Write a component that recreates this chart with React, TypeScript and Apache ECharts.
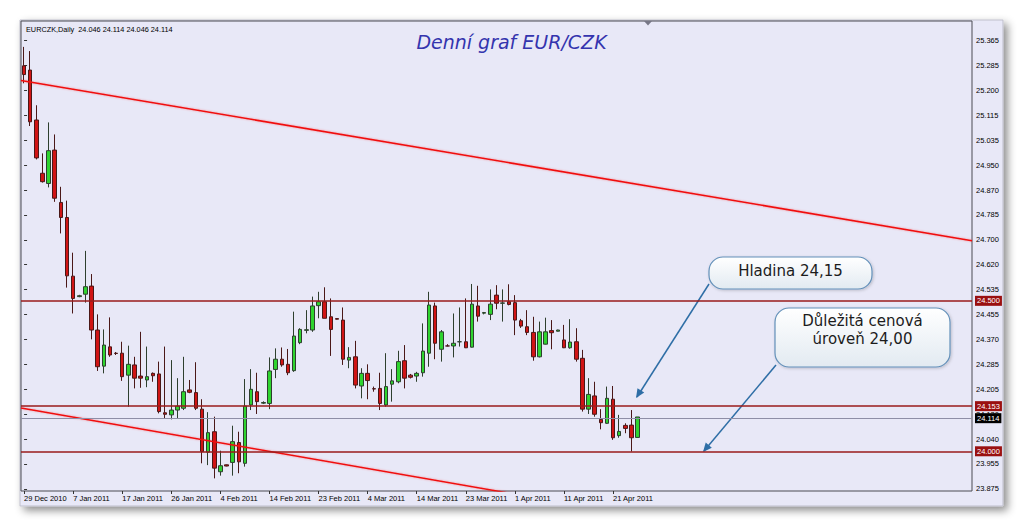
import React, { useEffect, useRef } from "react";
import * as echarts from "echarts";

// ---------- data ----------
const BAR_COUNT = 101;
const SLOT_COUNT = 155; // visible bar slots (right side left empty like in MT4)
const START = { y: 2010, m: 11, d: 29 };
const MISSING_DAYS = ["2011-04-17"]; // Sunday without a bar

const OPEN = [
  25.281, 25.267, 25.101, 24.924, 24.890, 25.001, 24.827, 24.777, 24.582, 24.514,
  24.522, 24.549, 24.403, 24.283, 24.347, 24.326, 24.326, 24.253, 24.287, 24.250,
  24.237, 24.259, 24.257, 24.128, 24.121, 24.137, 24.143, 24.204, 24.195, 24.140,
  23.997, 24.065, 23.932, 23.955, 23.963, 24.029, 23.960, 24.154, 24.198, 24.160,
  24.159, 24.272, 24.306, 24.289, 24.268, 24.361, 24.402, 24.403, 24.484, 24.497,
  24.447, 24.441, 24.436, 24.303, 24.314, 24.217, 24.259, 24.208, 24.209, 24.154,
  24.223, 24.231, 24.301, 24.253, 24.250, 24.261, 24.326, 24.483, 24.339, 24.350,
  24.350, 24.364, 24.364, 24.346, 24.483, 24.459, 24.455, 24.519, 24.492, 24.497,
  24.494, 24.434, 24.414, 24.395, 24.314, 24.356, 24.401, 24.399, 24.370, 24.344,
  24.364, 24.309, 24.140, 24.184, 24.106, 24.093, 24.173, 24.052, 24.086, 24.087,
  24.046,
];
const HIGH = [
  25.344, 25.330, 25.150, 24.990, 25.093, 25.053, 24.879, 24.833, 24.660, 24.520,
  24.666, 24.589, 24.455, 24.405, 24.445, 24.330, 24.364, 24.351, 24.314, 24.397,
  24.348, 24.262, 24.298, 24.348, 24.303, 24.243, 24.314, 24.237, 24.296, 24.173,
  24.130, 24.115, 24.002, 23.956, 24.085, 24.065, 24.240, 24.273, 24.261, 24.166,
  24.312, 24.342, 24.345, 24.340, 24.464, 24.409, 24.469, 24.514, 24.530, 24.545,
  24.508, 24.442, 24.478, 24.346, 24.367, 24.276, 24.289, 24.215, 24.261, 24.326,
  24.273, 24.334, 24.353, 24.257, 24.264, 24.425, 24.530, 24.494, 24.403, 24.356,
  24.458, 24.478, 24.508, 24.556, 24.550, 24.463, 24.538, 24.552, 24.538, 24.555,
  24.519, 24.440, 24.469, 24.447, 24.431, 24.444, 24.436, 24.404, 24.420, 24.439,
  24.409, 24.337, 24.243, 24.231, 24.140, 24.215, 24.217, 24.121, 24.093, 24.137,
  24.114,
];
const LOW = [
  25.223, 25.081, 24.970, 24.893, 24.877, 24.829, 24.724, 24.544, 24.458, 24.512,
  24.494, 24.372, 24.267, 24.259, 24.314, 24.320, 24.234, 24.148, 24.209, 24.211,
  24.213, 24.231, 24.126, 24.110, 24.106, 24.110, 24.137, 24.193, 24.137, 23.960,
  23.954, 23.910, 23.919, 23.950, 23.919, 23.927, 23.949, 24.137, 24.124, 24.157,
  24.140, 24.243, 24.281, 24.253, 24.264, 24.356, 24.392, 24.397, 24.442, 24.442,
  24.317, 24.438, 24.287, 24.276, 24.209, 24.176, 24.173, 24.198, 24.137, 24.148,
  24.165, 24.226, 24.209, 24.242, 24.231, 24.248, 24.281, 24.306, 24.298, 24.349,
  24.312, 24.348, 24.343, 24.345, 24.431, 24.455, 24.436, 24.472, 24.431, 24.485,
  24.386, 24.410, 24.386, 24.301, 24.312, 24.355, 24.339, 24.398, 24.343, 24.341,
  24.298, 24.132, 24.124, 24.115, 24.073, 24.091, 24.038, 24.045, 24.060, 23.999,
  24.046,
];
const CLOSE = [
  25.252, 25.095, 24.975, 24.896, 24.999, 24.841, 24.777, 24.583, 24.508, 24.517,
  24.547, 24.403, 24.281, 24.353, 24.320, 24.325, 24.248, 24.289, 24.243, 24.243,
  24.248, 24.251, 24.132, 24.123, 24.137, 24.150, 24.198, 24.196, 24.143, 23.999,
  24.062, 23.944, 23.952, 23.951, 24.032, 23.965, 24.150, 24.206, 24.165, 24.162,
  24.267, 24.306, 24.287, 24.261, 24.383, 24.405, 24.404, 24.483, 24.497, 24.442,
  24.405, 24.439, 24.306, 24.312, 24.220, 24.259, 24.235, 24.207, 24.159, 24.215,
  24.234, 24.298, 24.243, 24.246, 24.259, 24.333, 24.486, 24.359, 24.397, 24.350,
  24.359, 24.364, 24.344, 24.489, 24.449, 24.461, 24.489, 24.492, 24.493, 24.488,
  24.436, 24.416, 24.395, 24.314, 24.397, 24.397, 24.394, 24.403, 24.344, 24.363,
  24.306, 24.140, 24.189, 24.123, 24.095, 24.176, 24.045, 24.066, 24.076, 24.045,
  24.114,
];

const Y_TICK_LABELS = [
  "23.875", "23.955", "24.040", "24.120", "24.205", "24.285", "24.370", "24.455",
  "24.535", "24.620", "24.700", "24.785", "24.870", "24.950", "25.035", "25.115",
  "25.200", "25.285", "25.365",
];
const Y_TICK_FIRST = 23.875;
const Y_TICK_LAST = 25.365;
const Y_MIN = 23.868;
const Y_MAX = 25.43;

const LEVELS = [24.5, 24.153, 24.0];
const BID = 24.114;
const UPPER_TREND = [[-0.5, 25.232], [154.5, 24.7]];
const LOWER_TREND = [[-0.5, 24.144], [154.5, 23.592]];

const HEADER = "EURCZK,Daily  24.046 24.114 24.046 24.114";
const TITLE = "Denní graf EUR/CZK";
const NOTE1 = "Hladina 24,15";
const NOTE2 = "Důležitá cenová\núroveň 24,00";

const MONTHS = ["Jan", "Feb", "Mar", "Apr", "May", "Jun", "Jul", "Aug", "Sep", "Oct", "Nov", "Dec"];

function buildCategories(): string[] {
  const out: string[] = [];
  const d = new Date(Date.UTC(START.y, START.m, START.d));
  while (out.length < BAR_COUNT) {
    const iso = d.toISOString().slice(0, 10);
    if (d.getUTCDay() !== 6 && MISSING_DAYS.indexOf(iso) < 0) {
      out.push(`${d.getUTCDate()} ${MONTHS[d.getUTCMonth()]} ${d.getUTCFullYear()}`);
    }
    d.setUTCDate(d.getUTCDate() + 1);
  }
  for (let i = BAR_COUNT; i < SLOT_COUNT; i++) out.push(`slot${i}`);
  return out;
}

const FONT = '"Liberation Sans", Arial, sans-serif';

export default function App() {
  const ref = useRef<HTMLDivElement>(null);

  useEffect(() => {
    if (!ref.current) return;
    const chart = echarts.init(ref.current, undefined, { renderer: "svg" });
    const categories = buildCategories();
    const step = (Y_TICK_LAST - Y_TICK_FIRST) / (Y_TICK_LABELS.length - 1);
    const tickValues = Y_TICK_LABELS.map((_, i) => Y_TICK_FIRST + i * step);
    const labelInterval = (index: number) => index % 8 === 0 && index < BAR_COUNT;
    const candles = OPEN.map((o, i) => [o, CLOSE[i], LOW[i], HIGH[i]]);

    const levelLine = (v: number, line: string, bg: string, w: number) => ({
      yAxis: v,
      lineStyle: { color: line, width: w, type: "solid" },
      label: {
        show: true,
        position: "end",
        distance: 3,
        formatter: () => v.toFixed(3),
        color: "#ffffff",
        backgroundColor: bg,
        fontSize: 7.5,
        fontFamily: FONT,
        padding: [1, 2, 1, 2],
      },
    });

    const arrowHead = (x1: number, y1: number, x2: number, y2: number) => {
      const dx = x2 - x1, dy = y2 - y1;
      const len = Math.hypot(dx, dy);
      const ux = dx / len, uy = dy / len;
      const bx = x2 - ux * 9, by = y2 - uy * 9;
      const px = -uy * 4, py = ux * 4;
      return [[x2, y2], [bx + px, by + py], [bx - px, by - py]];
    };

    const calloutFill = new echarts.graphic.LinearGradient(0, 0, 0, 1, [
      { offset: 0, color: "#FFFFFF" },
      { offset: 1, color: "#E2EAF1" },
    ]);
    const calloutFill2 = new echarts.graphic.LinearGradient(0, 0, 0, 1, [
      { offset: 0, color: "#FFFFFF" },
      { offset: 1, color: "#E2EAF1" },
    ]);

    const option: any = {
      animation: false,
      backgroundColor: "#ffffff",
      grid: {
        left: 21,
        top: 21,
        right: 52,
        bottom: 36,
        show: true,
        borderColor: "#4a4a52",
        borderWidth: 1,
        backgroundColor: "transparent",
      },
      xAxis: [
        {
          type: "category",
          data: categories,
          boundaryGap: true,
          axisLine: { show: false },
          axisTick: {
            show: true,
            interval: labelInterval,
            alignWithLabel: true,
            length: 3,
            lineStyle: { color: "#333" },
          },
          axisLabel: {
            interval: labelInterval,
            align: "left",
            margin: 3,
            fontSize: 7.5,
            fontFamily: FONT,
            color: "#000",
          },
          splitLine: { show: false },
        },
        { type: "value", min: -0.5, max: SLOT_COUNT - 0.5, show: false },
      ],
      yAxis: {
        type: "value",
        position: "right",
        min: Y_MIN,
        max: Y_MAX,
        axisLine: { show: false },
        splitLine: { show: false },
        axisTick: {
          show: true,
          length: 3,
          customValues: tickValues,
          lineStyle: { color: "#333" },
        },
        axisLabel: {
          customValues: tickValues,
          margin: 4,
          fontSize: 7.5,
          fontFamily: FONT,
          color: "#000",
          formatter: (v: number) => {
            const idx = Math.round((v - Y_TICK_FIRST) / step);
            return Y_TICK_LABELS[idx] ?? "";
          },
        },
      },
      series: [
        {
          type: "candlestick",
          data: candles,
          barWidth: 4,
          itemStyle: {
            color: "#2FD42F",
            color0: "#D01414",
            borderColor: "#2E3F2E",
            borderColor0: "#4A1818",
            borderWidth: 1,
          },
          markLine: {
            silent: true,
            symbol: "none",
            animation: false,
            data: [
              levelLine(LEVELS[0], "#9A1B1B", "#9A1010", 1.6),
              levelLine(LEVELS[1], "#9A1B1B", "#9A1010", 1.6),
              levelLine(LEVELS[2], "#9A1B1B", "#9A1010", 1.6),
              levelLine(BID, "#8E8EA6", "#000000", 1),
            ],
          },
        },
        {
          type: "line",
          xAxisIndex: 1,
          data: UPPER_TREND,
          symbol: "none",
          clip: true,
          silent: true,
          lineStyle: { color: "#F01010", width: 1.5, shadowColor: "rgba(255,0,0,0.35)", shadowBlur: 2 },
        },
        {
          type: "line",
          xAxisIndex: 1,
          data: LOWER_TREND,
          symbol: "none",
          clip: true,
          silent: true,
          lineStyle: { color: "#F01010", width: 1.5, shadowColor: "rgba(255,0,0,0.35)", shadowBlur: 2 },
        },
      ],
      graphic: [
        {
          type: "rect",
          z: -10,
          silent: true,
          shape: { x: 20, y: 20, width: 983, height: 486 },
          style: {
            fill: "#E8E8F7",
            stroke: "#BFBFCB",
            lineWidth: 1,
            shadowBlur: 8,
            shadowOffsetX: 4,
            shadowOffsetY: 4,
            shadowColor: "rgba(0,0,0,0.45)",
          },
        },
        {
          type: "text",
          silent: true,
          style: {
            x: 26,
            y: 29,
            text: HEADER,
            font: `7.3px ${FONT}`,
            fill: "#000",
            textAlign: "left",
            textVerticalAlign: "middle",
          },
        },
        {
          type: "text",
          silent: true,
          style: {
            x: 511.5,
            y: 42,
            text: TITLE,
            font: 'italic 19px "DejaVu Sans", Verdana, sans-serif',
            fill: "#3434AE",
            textAlign: "center",
            textVerticalAlign: "middle",
            shadowColor: "rgba(0,0,0,0.2)",
            shadowBlur: 2,
            shadowOffsetX: 1,
            shadowOffsetY: 1,
          },
        },
        {
          type: "polygon",
          silent: true,
          shape: { points: [[644, 21], [652, 21], [648, 25.5]] },
          style: { fill: "#777786" },
        },
        // callout 1
        {
          type: "line",
          silent: true,
          shape: { x1: 709, y1: 284, x2: 637, y2: 397 },
          style: { stroke: "#2E6EA6", lineWidth: 1.5 },
        },
        {
          type: "polygon",
          silent: true,
          shape: { points: arrowHead(709, 284, 636, 398) },
          style: { fill: "#2E6EA6" },
        },
        {
          type: "rect",
          silent: true,
          shape: { x: 709, y: 257, width: 163, height: 32, r: 14 },
          style: {
            fill: calloutFill,
            stroke: "#6390B9",
            lineWidth: 1.2,
            shadowBlur: 3,
            shadowOffsetX: 1,
            shadowOffsetY: 1,
            shadowColor: "rgba(0,0,0,0.2)",
          },
        },
        {
          type: "text",
          silent: true,
          style: {
            x: 790.5,
            y: 271,
            text: NOTE1,
            font: '15px "DejaVu Sans", Verdana, sans-serif',
            fill: "#1c1c1c",
            textAlign: "center",
            textVerticalAlign: "middle",
          },
        },
        // callout 2
        {
          type: "line",
          silent: true,
          shape: { x1: 776, y1: 365, x2: 704, y2: 451 },
          style: { stroke: "#2E6EA6", lineWidth: 1.5 },
        },
        {
          type: "polygon",
          silent: true,
          shape: { points: arrowHead(776, 365, 703, 452) },
          style: { fill: "#2E6EA6" },
        },
        {
          type: "rect",
          silent: true,
          shape: { x: 775, y: 308, width: 175, height: 59, r: 14 },
          style: {
            fill: calloutFill2,
            stroke: "#6390B9",
            lineWidth: 1.2,
            shadowBlur: 3,
            shadowOffsetX: 1,
            shadowOffsetY: 1,
            shadowColor: "rgba(0,0,0,0.2)",
          },
        },
        {
          type: "text",
          silent: true,
          style: {
            x: 862.5,
            y: 330,
            text: NOTE2,
            font: '15px "DejaVu Sans", Verdana, sans-serif',
            lineHeight: 18,
            fill: "#1c1c1c",
            textAlign: "center",
            textVerticalAlign: "middle",
          },
        },
      ],
    };

    chart.setOption(option);
    return () => chart.dispose();
  }, []);

  return (
    <div
      ref={ref}
      style={{ position: "fixed", left: 0, top: 0, width: 1024, height: 527 }}
    />
  );
}
